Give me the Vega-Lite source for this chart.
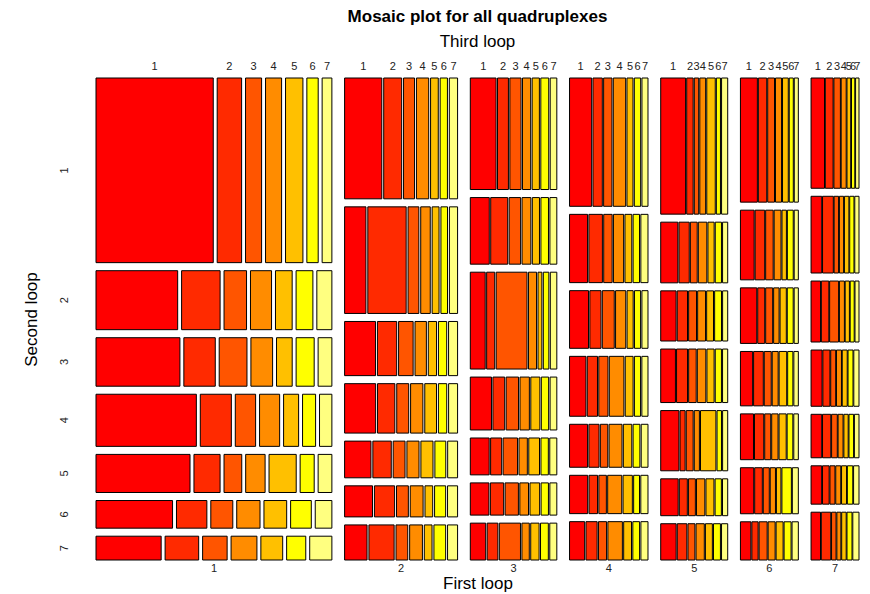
{
  "$schema": "https://vega.github.io/schema/vega-lite/v6.json",
  "width": 763,
  "height": 482,
  "autosize": "none",
  "padding": {"left": 96, "top": 78, "right": 11, "bottom": 34},
  "background": "white",
  "config": {
    "view": {"stroke": null},
    "font": "Liberation Sans",
    "axis": {"titleFont": "Liberation Sans", "titleColor": "black", "titleFontWeight": "normal", "titleFontSize": 17, "labels": false, "ticks": false, "domain": false, "grid": false},
    "text": {"font": "Liberation Sans"}
  },
  "title": {
    "text": "Mosaic plot for all quadruplexes",
    "subtitle": "Third loop",
    "anchor": "middle",
    "frame": "group",
    "font": "Liberation Sans",
    "fontSize": 17,
    "fontWeight": "bold",
    "color": "black",
    "subtitleFont": "Liberation Sans",
    "subtitleFontSize": 17,
    "subtitleColor": "black",
    "subtitlePadding": 8,
    "offset": 10
  },
  "datasets": {
    "counts": [
      {"f":1,"s":1,"t":1,"n":5415},{"f":1,"s":1,"t":2,"n":1128},{"f":1,"s":1,"t":3,"n":742},{"f":1,"s":1,"t":4,"n":742},{"f":1,"s":1,"t":5,"n":803},{"f":1,"s":1,"t":6,"n":524},{"f":1,"s":1,"t":7,"n":450},
      {"f":1,"s":2,"t":1,"n":1205},{"f":1,"s":2,"t":2,"n":568},{"f":1,"s":2,"t":3,"n":332},{"f":1,"s":2,"t":4,"n":311},{"f":1,"s":2,"t":5,"n":246},{"f":1,"s":2,"t":6,"n":248},{"f":1,"s":2,"t":7,"n":222},
      {"f":1,"s":3,"t":1,"n":1018},{"f":1,"s":3,"t":2,"n":381},{"f":1,"s":3,"t":3,"n":337},{"f":1,"s":3,"t":4,"n":263},{"f":1,"s":3,"t":5,"n":190},{"f":1,"s":3,"t":6,"n":219},{"f":1,"s":3,"t":7,"n":167},
      {"f":1,"s":4,"t":1,"n":1308},{"f":1,"s":4,"t":2,"n":405},{"f":1,"s":4,"t":3,"n":265},{"f":1,"s":4,"t":4,"n":262},{"f":1,"s":4,"t":5,"n":196},{"f":1,"s":4,"t":6,"n":170},{"f":1,"s":4,"t":7,"n":161},
      {"f":1,"s":5,"t":1,"n":896},{"f":1,"s":5,"t":2,"n":249},{"f":1,"s":5,"t":3,"n":169},{"f":1,"s":5,"t":4,"n":185},{"f":1,"s":5,"t":5,"n":259},{"f":1,"s":5,"t":6,"n":134},{"f":1,"s":5,"t":7,"n":131},
      {"f":1,"s":6,"t":1,"n":529},{"f":1,"s":6,"t":2,"n":210},{"f":1,"s":6,"t":3,"n":152},{"f":1,"s":6,"t":4,"n":161},{"f":1,"s":6,"t":5,"n":157},{"f":1,"s":6,"t":6,"n":143},{"f":1,"s":6,"t":7,"n":115},
      {"f":1,"s":7,"t":1,"n":388},{"f":1,"s":7,"t":2,"n":200},{"f":1,"s":7,"t":3,"n":146},{"f":1,"s":7,"t":4,"n":154},{"f":1,"s":7,"t":5,"n":130},{"f":1,"s":7,"t":6,"n":114},{"f":1,"s":7,"t":7,"n":132},
      {"f":2,"s":1,"t":1,"n":1125},{"f":2,"s":1,"t":2,"n":543},{"f":2,"s":1,"t":3,"n":332},{"f":2,"s":1,"t":4,"n":371},{"f":2,"s":1,"t":5,"n":232},{"f":2,"s":1,"t":6,"n":220},{"f":2,"s":1,"t":7,"n":250},
      {"f":2,"s":2,"t":1,"n":569},{"f":2,"s":2,"t":2,"n":1022},{"f":2,"s":2,"t":3,"n":288},{"f":2,"s":2,"t":4,"n":254},{"f":2,"s":2,"t":5,"n":184},{"f":2,"s":2,"t":6,"n":176},{"f":2,"s":2,"t":7,"n":218},
      {"f":2,"s":3,"t":1,"n":419},{"f":2,"s":3,"t":2,"n":261},{"f":2,"s":3,"t":3,"n":197},{"f":2,"s":3,"t":4,"n":154},{"f":2,"s":3,"t":5,"n":112},{"f":2,"s":3,"t":6,"n":112},{"f":2,"s":3,"t":7,"n":122},
      {"f":2,"s":4,"t":1,"n":384},{"f":2,"s":4,"t":2,"n":214},{"f":2,"s":4,"t":3,"n":148},{"f":2,"s":4,"t":4,"n":152},{"f":2,"s":4,"t":5,"n":145},{"f":2,"s":4,"t":6,"n":103},{"f":2,"s":4,"t":7,"n":111},
      {"f":2,"s":5,"t":1,"n":242},{"f":2,"s":5,"t":2,"n":169},{"f":2,"s":5,"t":3,"n":109},{"f":2,"s":5,"t":4,"n":111},{"f":2,"s":5,"t":5,"n":111},{"f":2,"s":5,"t":6,"n":100},{"f":2,"s":5,"t":7,"n":91},
      {"f":2,"s":6,"t":1,"n":217},{"f":2,"s":6,"t":2,"n":157},{"f":2,"s":6,"t":3,"n":92},{"f":2,"s":6,"t":4,"n":100},{"f":2,"s":6,"t":5,"n":60},{"f":2,"s":6,"t":6,"n":86},{"f":2,"s":6,"t":7,"n":78},
      {"f":2,"s":7,"t":1,"n":197},{"f":2,"s":7,"t":2,"n":221},{"f":2,"s":7,"t":3,"n":103},{"f":2,"s":7,"t":4,"n":112},{"f":2,"s":7,"t":5,"n":68},{"f":2,"s":7,"t":6,"n":103},{"f":2,"s":7,"t":7,"n":88},
      {"f":3,"s":1,"t":1,"n":719},{"f":3,"s":1,"t":2,"n":304},{"f":3,"s":1,"t":3,"n":312},{"f":3,"s":1,"t":4,"n":229},{"f":3,"s":1,"t":5,"n":202},{"f":3,"s":1,"t":6,"n":221},{"f":3,"s":1,"t":7,"n":185},
      {"f":3,"s":2,"t":1,"n":316},{"f":3,"s":2,"t":2,"n":283},{"f":3,"s":2,"t":3,"n":191},{"f":3,"s":2,"t":4,"n":147},{"f":3,"s":2,"t":5,"n":119},{"f":3,"s":2,"t":6,"n":126},{"f":3,"s":2,"t":7,"n":115},
      {"f":3,"s":3,"t":1,"n":361},{"f":3,"s":3,"t":2,"n":196},{"f":3,"s":3,"t":3,"n":747},{"f":3,"s":3,"t":4,"n":196},{"f":3,"s":3,"t":5,"n":94},{"f":3,"s":3,"t":6,"n":134},{"f":3,"s":3,"t":7,"n":158},
      {"f":3,"s":4,"t":1,"n":280},{"f":3,"s":4,"t":2,"n":156},{"f":3,"s":4,"t":3,"n":164},{"f":3,"s":4,"t":4,"n":124},{"f":3,"s":4,"t":5,"n":120},{"f":3,"s":4,"t":6,"n":97},{"f":3,"s":4,"t":7,"n":89},
      {"f":3,"s":5,"t":1,"n":174},{"f":3,"s":5,"t":2,"n":102},{"f":3,"s":5,"t":3,"n":133},{"f":3,"s":5,"t":4,"n":77},{"f":3,"s":5,"t":5,"n":99},{"f":3,"s":5,"t":6,"n":68},{"f":3,"s":5,"t":7,"n":65},
      {"f":3,"s":6,"t":1,"n":150},{"f":3,"s":6,"t":2,"n":107},{"f":3,"s":6,"t":3,"n":107},{"f":3,"s":6,"t":4,"n":70},{"f":3,"s":6,"t":5,"n":78},{"f":3,"s":6,"t":6,"n":59},{"f":3,"s":6,"t":7,"n":56},
      {"f":3,"s":7,"t":1,"n":142},{"f":3,"s":7,"t":2,"n":99},{"f":3,"s":7,"t":3,"n":195},{"f":3,"s":7,"t":4,"n":68},{"f":3,"s":7,"t":5,"n":77},{"f":3,"s":7,"t":6,"n":72},{"f":3,"s":7,"t":7,"n":65},
      {"f":4,"s":1,"t":1,"n":710},{"f":4,"s":1,"t":2,"n":300},{"f":4,"s":1,"t":3,"n":268},{"f":4,"s":1,"t":4,"n":397},{"f":4,"s":1,"t":5,"n":194},{"f":4,"s":1,"t":6,"n":203},{"f":4,"s":1,"t":7,"n":194},
      {"f":4,"s":2,"t":1,"n":308},{"f":4,"s":2,"t":2,"n":231},{"f":4,"s":2,"t":3,"n":144},{"f":4,"s":2,"t":4,"n":174},{"f":4,"s":2,"t":5,"n":117},{"f":4,"s":2,"t":6,"n":110},{"f":4,"s":2,"t":7,"n":122},
      {"f":4,"s":3,"t":1,"n":274},{"f":4,"s":3,"t":2,"n":161},{"f":4,"s":3,"t":3,"n":172},{"f":4,"s":3,"t":4,"n":147},{"f":4,"s":3,"t":5,"n":88},{"f":4,"s":3,"t":6,"n":88},{"f":4,"s":3,"t":7,"n":88},
      {"f":4,"s":4,"t":1,"n":246},{"f":4,"s":4,"t":2,"n":153},{"f":4,"s":4,"t":3,"n":138},{"f":4,"s":4,"t":4,"n":219},{"f":4,"s":4,"t":5,"n":118},{"f":4,"s":4,"t":6,"n":92},{"f":4,"s":4,"t":7,"n":92},
      {"f":4,"s":5,"t":1,"n":194},{"f":4,"s":5,"t":2,"n":109},{"f":4,"s":5,"t":3,"n":80},{"f":4,"s":5,"t":4,"n":139},{"f":4,"s":5,"t":5,"n":91},{"f":4,"s":5,"t":6,"n":73},{"f":4,"s":5,"t":7,"n":73},
      {"f":4,"s":6,"t":1,"n":174},{"f":4,"s":6,"t":2,"n":82},{"f":4,"s":6,"t":3,"n":72},{"f":4,"s":6,"t":4,"n":135},{"f":4,"s":6,"t":5,"n":89},{"f":4,"s":6,"t":6,"n":56},{"f":4,"s":6,"t":7,"n":69},
      {"f":4,"s":7,"t":1,"n":145},{"f":4,"s":7,"t":2,"n":107},{"f":4,"s":7,"t":3,"n":78},{"f":4,"s":7,"t":4,"n":139},{"f":4,"s":7,"t":5,"n":75},{"f":4,"s":7,"t":6,"n":65},{"f":4,"s":7,"t":7,"n":68},
      {"f":5,"s":1,"t":1,"n":847},{"f":5,"s":1,"t":2,"n":220},{"f":5,"s":1,"t":3,"n":150},{"f":5,"s":1,"t":4,"n":199},{"f":5,"s":1,"t":5,"n":289},{"f":5,"s":1,"t":6,"n":139},{"f":5,"s":1,"t":7,"n":209},
      {"f":5,"s":2,"t":1,"n":260},{"f":5,"s":2,"t":2,"n":156},{"f":5,"s":2,"t":3,"n":104},{"f":5,"s":2,"t":4,"n":129},{"f":5,"s":2,"t":5,"n":94},{"f":5,"s":2,"t":6,"n":94},{"f":5,"s":2,"t":7,"n":78},
      {"f":5,"s":3,"t":1,"n":193},{"f":5,"s":3,"t":2,"n":129},{"f":5,"s":3,"t":3,"n":99},{"f":5,"s":3,"t":4,"n":99},{"f":5,"s":3,"t":5,"n":86},{"f":5,"s":3,"t":6,"n":86},{"f":5,"s":3,"t":7,"n":64},
      {"f":5,"s":4,"t":1,"n":197},{"f":5,"s":4,"t":2,"n":147},{"f":5,"s":4,"t":3,"n":101},{"f":5,"s":4,"t":4,"n":114},{"f":5,"s":4,"t":5,"n":96},{"f":5,"s":4,"t":6,"n":83},{"f":5,"s":4,"t":7,"n":69},
      {"f":5,"s":5,"t":1,"n":274},{"f":5,"s":5,"t":2,"n":77},{"f":5,"s":5,"t":3,"n":104},{"f":5,"s":5,"t":4,"n":77},{"f":5,"s":5,"t":5,"n":232},{"f":5,"s":5,"t":6,"n":67},{"f":5,"s":5,"t":7,"n":77},
      {"f":5,"s":6,"t":1,"n":161},{"f":5,"s":6,"t":2,"n":74},{"f":5,"s":6,"t":3,"n":64},{"f":5,"s":6,"t":4,"n":77},{"f":5,"s":6,"t":5,"n":74},{"f":5,"s":6,"t":6,"n":58},{"f":5,"s":6,"t":7,"n":48},
      {"f":5,"s":7,"t":1,"n":140},{"f":5,"s":7,"t":2,"n":87},{"f":5,"s":7,"t":3,"n":63},{"f":5,"s":7,"t":4,"n":75},{"f":5,"s":7,"t":5,"n":63},{"f":5,"s":7,"t":6,"n":63},{"f":5,"s":7,"t":7,"n":56},
      {"f":6,"s":1,"t":1,"n":526},{"f":6,"s":1,"t":2,"n":261},{"f":6,"s":1,"t":3,"n":211},{"f":6,"s":1,"t":4,"n":189},{"f":6,"s":1,"t":5,"n":179},{"f":6,"s":1,"t":6,"n":126},{"f":6,"s":1,"t":7,"n":126},
      {"f":6,"s":2,"t":1,"n":239},{"f":6,"s":2,"t":2,"n":167},{"f":6,"s":2,"t":3,"n":131},{"f":6,"s":2,"t":4,"n":120},{"f":6,"s":2,"t":5,"n":77},{"f":6,"s":2,"t":6,"n":102},{"f":6,"s":2,"t":7,"n":72},
      {"f":6,"s":3,"t":1,"n":227},{"f":6,"s":3,"t":2,"n":97},{"f":6,"s":3,"t":3,"n":97},{"f":6,"s":3,"t":4,"n":76},{"f":6,"s":3,"t":5,"n":87},{"f":6,"s":3,"t":6,"n":82},{"f":6,"s":3,"t":7,"n":58},
      {"f":6,"s":4,"t":1,"n":166},{"f":6,"s":4,"t":2,"n":132},{"f":6,"s":4,"t":3,"n":95},{"f":6,"s":4,"t":4,"n":81},{"f":6,"s":4,"t":5,"n":103},{"f":6,"s":4,"t":6,"n":71},{"f":6,"s":4,"t":7,"n":61},
      {"f":6,"s":5,"t":1,"n":150},{"f":6,"s":5,"t":2,"n":106},{"f":6,"s":5,"t":3,"n":69},{"f":6,"s":5,"t":4,"n":73},{"f":6,"s":5,"t":5,"n":82},{"f":6,"s":5,"t":6,"n":65},{"f":6,"s":5,"t":7,"n":52},
      {"f":6,"s":6,"t":1,"n":153},{"f":6,"s":6,"t":2,"n":88},{"f":6,"s":6,"t":3,"n":69},{"f":6,"s":6,"t":4,"n":60},{"f":6,"s":6,"t":5,"n":52},{"f":6,"s":6,"t":6,"n":109},{"f":6,"s":6,"t":7,"n":69},
      {"f":6,"s":7,"t":1,"n":100},{"f":6,"s":7,"t":2,"n":60},{"f":6,"s":7,"t":3,"n":77},{"f":6,"s":7,"t":4,"n":67},{"f":6,"s":7,"t":5,"n":67},{"f":6,"s":7,"t":6,"n":67},{"f":6,"s":7,"t":7,"n":60},
      {"f":7,"s":1,"t":1,"n":371},{"f":7,"s":1,"t":2,"n":215},{"f":7,"s":1,"t":3,"n":179},{"f":7,"s":1,"t":4,"n":138},{"f":7,"s":1,"t":5,"n":102},{"f":7,"s":1,"t":6,"n":91},{"f":7,"s":1,"t":7,"n":94},
      {"f":7,"s":2,"t":1,"n":205},{"f":7,"s":2,"t":2,"n":207},{"f":7,"s":2,"t":3,"n":86},{"f":7,"s":2,"t":4,"n":81},{"f":7,"s":2,"t":5,"n":86},{"f":7,"s":2,"t":6,"n":82},{"f":7,"s":2,"t":7,"n":81},
      {"f":7,"s":3,"t":1,"n":145},{"f":7,"s":3,"t":2,"n":114},{"f":7,"s":3,"t":3,"n":137},{"f":7,"s":3,"t":4,"n":76},{"f":7,"s":3,"t":5,"n":64},{"f":7,"s":3,"t":6,"n":61},{"f":7,"s":3,"t":7,"n":61},
      {"f":7,"s":4,"t":1,"n":155},{"f":7,"s":4,"t":2,"n":99},{"f":7,"s":4,"t":3,"n":70},{"f":7,"s":4,"t":4,"n":70},{"f":7,"s":4,"t":5,"n":70},{"f":7,"s":4,"t":6,"n":70},{"f":7,"s":4,"t":7,"n":73},
      {"f":7,"s":5,"t":1,"n":116},{"f":7,"s":5,"t":2,"n":90},{"f":7,"s":5,"t":3,"n":62},{"f":7,"s":5,"t":4,"n":54},{"f":7,"s":5,"t":5,"n":47},{"f":7,"s":5,"t":6,"n":50},{"f":7,"s":5,"t":7,"n":50},
      {"f":7,"s":6,"t":1,"n":102},{"f":7,"s":6,"t":2,"n":64},{"f":7,"s":6,"t":3,"n":48},{"f":7,"s":6,"t":4,"n":48},{"f":7,"s":6,"t":5,"n":48},{"f":7,"s":6,"t":6,"n":52},{"f":7,"s":6,"t":7,"n":52},
      {"f":7,"s":7,"t":1,"n":113},{"f":7,"s":7,"t":2,"n":113},{"f":7,"s":7,"t":3,"n":54},{"f":7,"s":7,"t":4,"n":48},{"f":7,"s":7,"t":5,"n":54},{"f":7,"s":7,"t":6,"n":60},{"f":7,"s":7,"t":7,"n":74}
    ]
  },
  "data": {"name": "counts"},
  "transform": [
    {"joinaggregate": [{"op": "sum", "field": "n", "as": "N"}]},
    {"joinaggregate": [{"op": "sum", "field": "n", "as": "C"}], "groupby": ["f"]},
    {"joinaggregate": [{"op": "sum", "field": "n", "as": "R"}], "groupby": ["f", "s"]},
    {"stack": "n", "groupby": [], "sort": [{"field": "f", "order": "ascending"}, {"field": "s", "order": "ascending"}, {"field": "t", "order": "ascending"}], "as": ["a0", "a1"]},
    {"window": [{"op": "min", "field": "a0", "as": "cb"}], "groupby": ["f"], "frame": [null, null]},
    {"stack": "n", "groupby": ["f"], "sort": [{"field": "s", "order": "ascending"}, {"field": "t", "order": "ascending"}], "as": ["b0", "b1"]},
    {"window": [{"op": "min", "field": "b0", "as": "rb"}], "groupby": ["f", "s"], "frame": [null, null]},
    {"stack": "n", "groupby": ["f", "s"], "sort": [{"field": "t", "order": "ascending"}], "as": ["c0", "c1"]},
    {"calculate": "0.9*datum.cb/datum.N + (datum.f-1)*0.1/6", "as": "cx0"},
    {"calculate": "0.9*datum.C/datum.N", "as": "cw"},
    {"calculate": "0.9*datum.rb/datum.C + (datum.s-1)*0.1/6", "as": "ry0"},
    {"calculate": "datum.ry0 + 0.9*datum.R/datum.C", "as": "ry1"},
    {"calculate": "datum.cx0 + datum.cw*(0.9*datum.c0/datum.R + (datum.t-1)*0.1/6)", "as": "tx0"},
    {"calculate": "datum.tx0 + datum.cw*0.9*datum.n/datum.R", "as": "tx1"},
    {"calculate": "(datum.tx0+datum.tx1)/2", "as": "tc"},
    {"calculate": "datum.cx0 + datum.cw/2", "as": "cc"},
    {"calculate": "(datum.ry0+datum.ry1)/2", "as": "rc"}
  ],
  "layer": [
    {
      "mark": {"type": "rect", "stroke": "#000000", "strokeWidth": 1},
      "encoding": {
        "x": {"field": "tx0", "type": "quantitative", "scale": {"domain": [0, 1], "nice": false, "zero": false},
              "axis": {"title": "First loop", "titlePadding": 15}},
        "x2": {"field": "tx1"},
        "y": {"field": "ry0", "type": "quantitative", "scale": {"domain": [0, 1], "reverse": true, "nice": false, "zero": false},
              "axis": {"title": "Second loop", "titlePadding": 56}},
        "y2": {"field": "ry1"},
        "color": {"field": "t", "type": "ordinal", "scale": {"domain": [1, 2, 3, 4, 5, 6, 7], "range": ["#FF0000", "#FF2A00", "#FF5500", "#FF8C00", "#FFC000", "#FFFF00", "#FFFF80"]}, "legend": null}
      }
    },
    {
      "transform": [{"filter": "datum.s == 1"}],
      "mark": {"type": "text", "fontSize": 11, "color": "#222222", "baseline": "middle", "align": "center"},
      "encoding": {
        "x": {"field": "tc", "type": "quantitative", "axis": {"title": "First loop", "titlePadding": 15}},
        "y": {"datum": -0.022, "type": "quantitative", "axis": {"title": "Second loop", "titlePadding": 56}},
        "text": {"field": "t", "type": "nominal"}
      }
    },
    {
      "transform": [{"filter": "datum.f == 1 && datum.t == 1"}],
      "mark": {"type": "text", "fontSize": 11, "color": "#222222", "baseline": "middle", "align": "center", "angle": 270},
      "encoding": {
        "x": {"datum": -0.040, "type": "quantitative", "axis": {"title": "First loop", "titlePadding": 15}},
        "y": {"field": "rc", "type": "quantitative", "axis": {"title": "Second loop", "titlePadding": 56}},
        "text": {"field": "s", "type": "nominal"}
      }
    },
    {
      "transform": [{"filter": "datum.s == 1 && datum.t == 1"}],
      "mark": {"type": "text", "fontSize": 11, "color": "#222222", "baseline": "middle", "align": "center"},
      "encoding": {
        "x": {"field": "cc", "type": "quantitative", "axis": {"title": "First loop", "titlePadding": 15}},
        "y": {"datum": 1.018, "type": "quantitative", "axis": {"title": "Second loop", "titlePadding": 56}},
        "text": {"field": "f", "type": "nominal"}
      }
    }
  ]
}
